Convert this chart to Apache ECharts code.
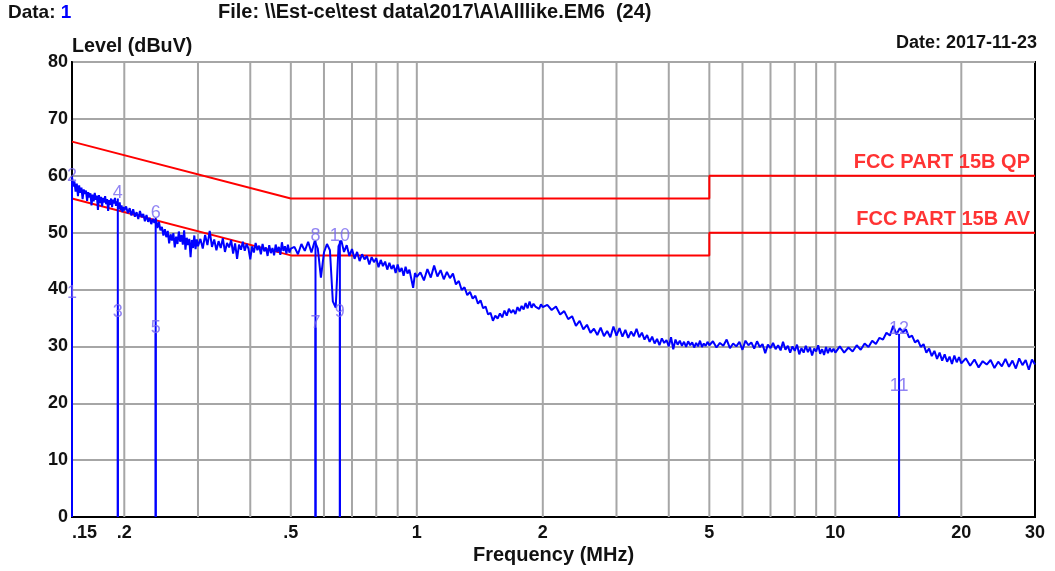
<!DOCTYPE html>
<html>
<head>
<meta charset="utf-8">
<script src="https://cdn.jsdelivr.net/npm/echarts@6/dist/echarts.min.js"></script>
<style>
html,body{margin:0;padding:0;background:#fff;}
#chart{width:1055px;height:571px;}
</style>
</head>
<body>
<div id="chart"></div>
<script>
// ---------- data ----------
const gridFreqs = [0.2,0.3,0.4,0.5,0.6,0.7,0.8,0.9,1,2,3,4,5,6,7,8,9,10,20];
const tickFreqs = [0.15,0.2,0.5,1,2,5,10,20,30];
const tickLabels = ['.15','.2','.5','1','2','5','10','20','30'];

const limitFreq = [0.15, 0.5, 5, 5, 30];
const qpLevel   = [66, 56, 56, 60, 60];
const avLevel   = [56, 46, 46, 50, 50];
const limitNames = ['FCC PART 15B QP', 'FCC PART 15B AV'];

const markerNo    = [1,2,3,4,5,6,7,8,9,10,11,12];
const markerFreq  = [0.15,0.15,0.193,0.193,0.2377,0.2377,0.5727,0.5727,0.6549,0.6549,14.2,14.2];
const markerLevel = [38.5,59.1,35.2,56.0,32.3,52.6,33.3,48.6,35.1,48.6,22.2,32.2];

// measured trace [MHz, dBuV]
const trace = [
[0.150,59.8],[0.151,58.1],[0.152,59.0],[0.153,57.2],[0.154,58.6],[0.155,56.4],[0.156,58.3],[0.157,57.0],
[0.158,57.9],[0.159,55.9],[0.160,57.6],[0.161,56.8],[0.162,57.4],[0.163,55.6],[0.164,57.1],[0.165,56.2],
[0.166,56.9],[0.167,54.8],[0.168,56.7],[0.169,55.5],[0.170,57.0],[0.171,55.8],[0.172,56.5],[0.173,54.0],
[0.174,56.6],[0.175,55.2],[0.176,56.3],[0.177,54.6],[0.178,56.1],[0.179,55.3],[0.180,56.4],[0.181,55.0],
[0.182,55.9],[0.183,53.8],[0.184,55.7],[0.185,54.9],[0.186,56.0],[0.187,54.5],[0.188,55.8],[0.189,55.1],
[0.190,56.1],[0.191,54.7],[0.192,55.5],[0.193,55.7],[0.194,54.2],[0.195,55.3],[0.196,53.9],[0.197,54.8],
[0.198,53.6],[0.199,54.5],[0.200,53.9],
[0.202,54.6],[0.204,53.4],[0.206,54.3],[0.208,53.0],[0.210,54.1],[0.212,52.8],[0.214,53.6],[0.216,52.4],
[0.218,53.8],[0.220,52.7],[0.222,53.3],[0.224,52.0],[0.226,53.1],[0.228,51.9],[0.230,52.6],[0.232,51.5],
[0.234,52.4],[0.236,51.7],[0.238,52.3],[0.240,50.8],[0.242,51.9],[0.244,50.4],[0.246,51.0],[0.248,49.5],
[0.250,50.6],[0.252,49.2],[0.254,50.3],[0.256,48.1],[0.258,49.7],[0.260,48.6],[0.262,49.9],[0.264,47.4],
[0.266,49.3],[0.268,48.0],[0.270,50.2],[0.272,48.4],[0.274,49.6],[0.276,47.9],[0.278,50.4],[0.280,47.0],
[0.282,49.1],[0.284,47.8],[0.286,48.9],[0.288,45.7],[0.290,48.7],[0.292,47.3],[0.294,49.5],[0.296,47.1],
[0.298,48.8],[0.300,47.6],
[0.304,48.9],[0.308,47.2],[0.312,49.6],[0.316,47.8],[0.320,50.3],[0.324,47.5],[0.328,48.8],[0.332,46.9],
[0.336,48.5],[0.340,47.3],[0.344,49.0],[0.348,46.6],[0.352,48.2],[0.356,47.4],[0.360,48.7],[0.364,46.3],
[0.368,48.1],[0.372,45.4],[0.376,47.9],[0.380,47.0],[0.384,48.4],[0.388,46.8],[0.392,48.0],[0.396,47.2],
[0.400,45.3],[0.404,47.6],[0.408,46.5],[0.412,48.2],[0.416,46.9],[0.420,47.7],[0.424,46.2],[0.428,48.0],
[0.432,46.7],[0.436,47.4],[0.440,45.9],[0.444,47.8],[0.448,46.4],[0.452,47.3],[0.456,46.0],[0.460,47.9],
[0.464,46.6],[0.468,47.5],[0.472,46.1],[0.476,48.3],[0.480,46.8],[0.484,47.6],[0.488,46.3],[0.492,47.9],
[0.496,46.5],[0.500,47.2],
[0.51,47.5],[0.52,46.2],[0.53,48.0],[0.54,46.8],[0.55,48.4],[0.56,46.5],[0.57,48.5],[0.58,47.2],
[0.59,42.1],[0.60,46.5],[0.61,48.0],[0.62,46.9],[0.63,37.9],[0.64,36.8],[0.65,47.6],[0.66,48.6],
[0.67,46.6],[0.68,47.8],[0.69,45.9],[0.70,47.1],[0.71,45.4],[0.72,46.6],[0.73,45.0],[0.74,46.2],
[0.75,45.3],[0.76,45.9],[0.77,44.4],[0.78,45.7],[0.79,44.8],[0.80,45.5],[0.81,43.9],[0.82,45.2],
[0.83,44.1],[0.84,44.9],[0.85,43.5],[0.86,44.7],[0.87,43.6],[0.88,44.3],[0.89,42.9],[0.90,44.4],
[0.91,43.1],[0.92,43.8],[0.93,42.4],[0.94,44.0],[0.95,42.8],[0.96,43.5],[0.97,41.9],[0.98,40.3],
[0.99,42.9],[1.00,42.2],
[1.02,43.0],[1.04,41.6],[1.06,43.6],[1.08,42.1],[1.10,44.2],[1.12,42.3],[1.14,43.4],[1.16,41.8],
[1.18,43.1],[1.20,42.0],[1.22,42.8],[1.24,40.9],[1.26,41.5],[1.28,39.9],[1.30,40.4],[1.32,39.0],
[1.34,39.6],[1.36,38.4],[1.38,38.9],[1.40,37.5],[1.42,38.1],[1.44,36.7],[1.46,37.0],[1.48,35.6],
[1.50,35.9],[1.52,34.5],[1.54,35.4],[1.56,34.9],[1.58,35.8],[1.60,35.1],[1.62,36.3],[1.64,35.4],
[1.66,36.6],[1.68,35.9],[1.70,36.4],[1.72,35.7],[1.74,36.9],[1.76,36.2],[1.78,37.1],[1.80,36.5],
[1.82,37.6],[1.84,36.7],[1.86,37.9],[1.88,36.8],[1.90,37.5],[1.92,37.0],[1.94,37.3],[1.96,36.6],
[1.98,37.4],[2.00,36.9],
[2.05,37.3],[2.10,36.4],[2.15,37.0],[2.20,35.6],[2.25,36.2],[2.30,34.8],[2.35,35.3],[2.40,33.6],
[2.45,34.5],[2.50,33.0],[2.55,33.8],[2.60,32.4],[2.65,33.1],[2.70,32.0],[2.75,33.3],[2.80,31.8],
[2.85,32.7],[2.90,31.6],[2.95,33.5],[3.00,31.9],[3.05,33.2],[3.10,31.7],[3.15,32.9],[3.20,31.5],
[3.25,32.6],[3.30,31.8],[3.35,33.1],[3.40,31.6],[3.45,32.4],[3.50,31.2],[3.55,32.0],[3.60,30.8],
[3.65,31.7],[3.70,30.5],[3.75,31.3],[3.80,30.2],[3.85,31.4],[3.90,30.6],[3.95,31.1],[4.00,30.0],
[4.05,31.6],[4.10,29.5],[4.15,31.2],[4.20,30.3],[4.25,31.0],[4.30,30.1],[4.35,30.8],[4.40,29.9],
[4.45,30.9],[4.50,30.2],[4.55,30.7],[4.60,29.8],[4.65,30.6],[4.70,30.0],[4.75,31.0],[4.80,29.9],
[4.85,30.5],[4.90,30.1],[4.95,30.8],[5.00,30.2],
[5.1,30.9],[5.2,29.8],[5.3,30.6],[5.4,30.1],[5.5,31.2],[5.6,29.7],[5.7,30.5],[5.8,30.0],[5.9,30.8],
[6.0,29.4],[6.1,31.0],[6.2,30.2],[6.3,30.7],[6.4,29.6],[6.5,30.9],[6.6,29.9],[6.7,30.4],[6.8,28.8],
[6.9,30.3],[7.0,29.7],[7.1,30.6],[7.2,29.5],[7.3,30.2],[7.4,29.3],[7.5,30.8],[7.6,29.4],[7.7,30.1],
[7.8,28.9],[7.9,30.0],[8.0,29.2],[8.1,30.3],[8.2,28.6],[8.3,29.7],[8.4,28.9],[8.5,30.1],[8.6,29.0],
[8.7,29.8],[8.8,28.4],[8.9,29.6],[9.0,29.1],[9.1,30.2],[9.2,28.7],[9.3,29.5],[9.4,28.5],[9.5,29.9],
[9.6,28.8],[9.7,29.7],[9.8,29.0],[9.9,29.6],[10.0,28.9],
[10.25,30.0],[10.50,28.9],[10.75,29.8],[11.00,29.1],[11.25,30.2],[11.50,29.4],[11.75,30.5],[12.00,29.9],
[12.25,31.0],[12.50,30.4],[12.75,31.5],[13.00,31.2],[13.25,32.4],[13.50,31.9],[13.75,33.6],[14.00,32.1],
[14.25,33.2],[14.50,32.5],[14.75,33.0],[15.00,31.6],[15.25,31.9],[15.50,30.7],[15.75,31.1],[16.00,29.9],
[16.25,30.4],[16.50,28.9],[16.75,29.6],[17.00,28.3],[17.25,29.2],[17.50,27.8],[17.75,28.9],[18.00,27.5],
[18.25,28.6],[18.50,27.3],[18.75,28.2],[19.00,26.9],[19.25,28.4],[19.50,27.2],[19.75,28.1],[20.00,27.0],
[20.5,27.9],[21.0,26.6],[21.5,27.7],[22.0,26.3],[22.5,27.4],[23.0,26.8],[23.5,27.6],[24.0,26.2],
[24.5,27.3],[25.0,26.5],[25.5,27.8],[26.0,26.4],[26.5,27.5],[27.0,26.1],[27.5,27.9],[28.0,26.7],
[28.5,27.6],[29.0,25.9],[29.5,27.7],[30.0,26.8]
];

// ---------- chart ----------
const FONT = 'Liberation Sans, Arial, sans-serif';
const chart = echarts.init(document.getElementById('chart'), null, {renderer:'canvas'});

function zip(a, b){ return a.map((v,i)=>[v,b[i]]); }

const option = {
  animation: false,
  backgroundColor: '#ffffff',
  grid: {left:72, right:20, top:62, bottom:54, outerBoundsMode:'none', containLabel:false,
         show:true, borderColor:'#000', borderWidth:2, backgroundColor:'transparent'},
  xAxis: {
    type:'log', logBase:10, min:0.15, max:30,
    axisLine:{show:true, lineStyle:{color:'#000', width:2}},
    axisTick:{show:false}, axisLabel:{show:false}, splitLine:{show:false},
    name:'Frequency (MHz)', nameLocation:'middle', nameGap:28,
    nameTextStyle:{fontFamily:FONT, fontWeight:'bold', fontSize:20, color:'#111'}
  },
  yAxis: {
    type:'value', min:0, max:80, interval:10,
    axisLine:{show:true, lineStyle:{color:'#000', width:2}},
    axisTick:{show:false},
    axisLabel:{fontFamily:FONT, fontWeight:'bold', fontSize:18, color:'#111', margin:4},
    splitLine:{show:true, lineStyle:{color:'#a6a6a6', width:2}}
  },
  graphic: [
    {type:'text', left:8, top:3, style:{text:'{a|Data: }{b|1}', rich:{a:{fontFamily:FONT, fontWeight:'bold', fontSize:19, fill:'#111'}, b:{fontFamily:FONT, fontWeight:'bold', fontSize:19, fill:'#0000ff'}}}},
    {type:'text', left:218, top:2, style:{text:'File: \\\\Est-ce\\test data\\2017\\A\\Alllike.EM6  (24)', font:'bold 20px '+FONT, fill:'#111'}},
    {type:'text', right:18, top:34, style:{text:'Date: 2017-11-23', font:'bold 18px '+FONT, fill:'#111'}},
    {type:'text', left:72, top:37, style:{text:'Level (dBuV)', font:'bold 19.7px '+FONT, fill:'#111'}}
  ],
  series: [
    { // vertical log grid lines
      type:'custom', z:1, silent:true, clip:true,
      data: gridFreqs.map(f=>[f]),
      renderItem: function(params, api){
        const p0 = api.coord([api.value(0), 0]);
        const p1 = api.coord([api.value(0), 80]);
        return {type:'line', shape:{x1:p0[0], y1:p0[1], x2:p1[0], y2:p1[1]}, style:{stroke:'#a6a6a6', lineWidth:2}};
      }
    },
    { // x tick labels
      type:'custom', z:3, silent:true, clip:false,
      data: tickFreqs.map((f,i)=>[f, i]),
      renderItem: function(params, api){
        const i = api.value(1);
        const p = api.coord([api.value(0), 0]);
        const al = i === 0 ? 'left' : 'center';
        return {type:'text', x:p[0], y:p[1]+7, style:{text:tickLabels[i], align:al, textAlign:al, verticalAlign:'top', textVerticalAlign:'top', font:'bold 18px '+FONT, fill:'#111'}};
      }
    },
    { // QP limit
      type:'line', z:4, symbol:'none', silent:true,
      data: zip(limitFreq, qpLevel),
      lineStyle:{color:'#ff0000', width:2}
    },
    { // AV limit
      type:'line', z:4, symbol:'none', silent:true,
      data: zip(limitFreq, avLevel),
      lineStyle:{color:'#ff0000', width:2}
    },
    { // limit names
      type:'scatter', z:4, silent:true, symbolSize:0,
      data: [[limitFreq[limitFreq.length-1], qpLevel[qpLevel.length-1], limitNames[0]],
             [limitFreq[limitFreq.length-1], avLevel[avLevel.length-1], limitNames[1]]],
      label:{show:true, position:'top', align:'right', distance:3, offset:[-5,0],
             formatter:(p)=>p.value[2], fontFamily:FONT, fontWeight:'bold', fontSize:20, color:'#ff0000'}
    },
    { // measured trace
      type:'line', z:5, symbol:'none', silent:true,
      data: trace,
      lineStyle:{color:'#0000ff', width:2}
    },
    { // marker lines
      type:'custom', z:6, silent:true,
      data: markerFreq.map((f,i)=>[f, markerLevel[i]]),
      renderItem: function(params, api){
        const p0 = api.coord([api.value(0), 0]);
        const p1 = api.coord([api.value(0), api.value(1)]);
        return {type:'line', shape:{x1:p0[0], y1:p0[1], x2:p1[0], y2:p1[1]}, style:{stroke:'#0000ff', lineWidth:2}};
      }
    },
    { // marker labels
      type:'scatter', z:7, silent:true, symbolSize:0,
      data: markerFreq.map((f,i)=>[f, markerLevel[i], markerNo[i]]),
      label:{show:true, position:'top', distance:-4, formatter:(p)=>String(p.value[2]), fontFamily:FONT, fontSize:18, color:'#7565f0'}
    }
  ]
};
chart.setOption(option);
</script>
</body>
</html>
